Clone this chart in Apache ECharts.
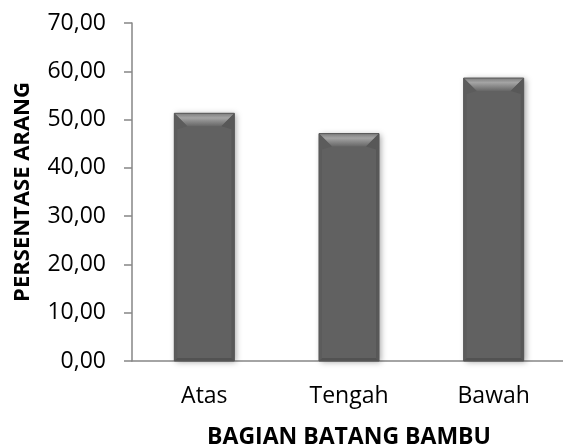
<!DOCTYPE html>
<html>
<head>
<meta charset="utf-8">
<script src="https://cdn.jsdelivr.net/npm/echarts@6/dist/echarts.min.js"></script>
<style>html,body{margin:0;padding:0;background:#fff;}#c{width:563px;height:445px;}</style>
</head>
<body>
<div id="c"></div>
<script>
const categories = ['Atas', 'Tengah', 'Bawah'];
const values = [51.3, 47.1, 58.6];
const yTicks = [0, 10, 20, 30, 40, 50, 60, 70];

const FONT = 'Open Sans';
const BAR_FRAC = 0.415;
const chart = echarts.init(document.getElementById('c'), null, {renderer: 'canvas'});

function bevel(params, api) {
  const idx = api.value(0);
  const v = api.value(1);
  const top = api.coord([idx, v]);
  const base = api.coord([idx, 0]);
  const bw = api.size([1, 0])[0] * BAR_FRAC;
  const l = top[0] - bw / 2, r = top[0] + bw / 2;
  const t = top[1], b = base[1];
  const d = 13, s = 3;
  return {
    type: 'group',
    children: [
      {type: 'polygon', shape: {points: [[l, t], [r, t], [r - d, t + d], [l + d, t + d]]},
       style: {fill: new echarts.graphic.LinearGradient(0, 0, 0, 1, [
         {offset: 0, color: '#7e7e7e'}, {offset: 0.35, color: '#a4a4a4'}, {offset: 1, color: '#666666'}])}},
      {type: 'polygon', shape: {points: [[l, t], [l + d, t + d], [l + s, t + d + 3], [l + s, b - s], [l, b]]},
       style: {fill: '#5c5c5c'}},
      {type: 'polygon', shape: {points: [[r, t], [r - d, t + d], [r - s, t + d + 3], [r - s, b - s], [r, b]]},
       style: {fill: '#585858'}},
      {type: 'polygon', shape: {points: [[l, b], [r, b], [r - s, b - s], [l + s, b - s]]},
       style: {fill: '#525252'}},
      {type: 'rect', shape: {x: l, y: t, width: bw, height: b - t},
       style: {fill: 'none', stroke: '#595959', lineWidth: 1}}
    ]
  };
}

chart.setOption({
  animation: false,
  backgroundColor: '#ffffff',
  grid: {left: 132, top: 23, width: 434, height: 338, containLabel: false, outerBoundsMode: 'none'},
  xAxis: {
    type: 'category',
    data: categories,
    name: 'BAGIAN BATANG BAMBU',
    nameLocation: 'middle',
    nameGap: 65,
    nameTextStyle: {fontFamily: FONT, fontWeight: 'bold', fontSize: 23, color: '#000'},
    axisLine: {show: true, lineStyle: {color: '#868686', width: 1.5}},
    axisTick: {show: false},
    axisLabel: {fontFamily: FONT, fontSize: 23, color: '#000', margin: 24}
  },
  yAxis: {
    type: 'value',
    min: yTicks[0],
    max: yTicks[yTicks.length - 1],
    interval: 10,
    name: 'PERSENTASE ARANG',
    nameLocation: 'middle',
    nameGap: 98,
    nameRotate: 90,
    nameTextStyle: {fontFamily: FONT, fontWeight: 'bold', fontSize: 22, color: '#000'},
    axisLine: {show: true, lineStyle: {color: '#868686', width: 1.5}},
    axisTick: {show: true, inside: false, length: 8, lineStyle: {color: '#868686', width: 1.5}},
    splitLine: {show: false},
    axisLabel: {fontFamily: FONT, fontSize: 23, color: '#000', margin: 26,
      formatter: v => v.toFixed(2).replace('.', ',')}
  },
  series: [
    {
      type: 'bar',
      data: values,
      barWidth: (BAR_FRAC * 100) + '%',
      itemStyle: {color: '#616161', shadowBlur: 6, shadowColor: 'rgba(0,0,0,0.35)', shadowOffsetX: 2, shadowOffsetY: 1}
    },
    {
      type: 'custom',
      renderItem: bevel,
      data: values.map((v, i) => [i, v]),
      z: 3
    }
  ]
});
</script>
</body>
</html>
